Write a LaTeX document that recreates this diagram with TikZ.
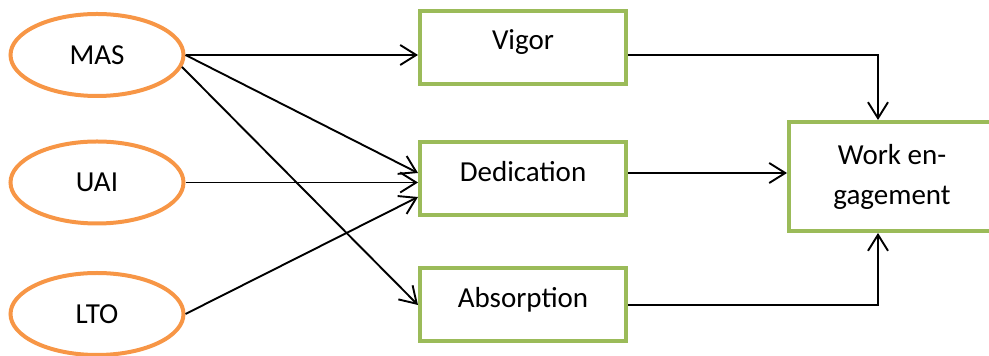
\documentclass[tikz,border=0pt]{standalone}
\usepackage{fontspec}
\setmainfont{Carlito}
\usetikzlibrary{arrows.meta, shapes.geometric}
\definecolor{dimorange}{HTML}{F79646}
\definecolor{dimgreen}{HTML}{9BBB59}

\begin{document}
\begin{tikzpicture}[x=0.5pt, y=-0.5pt,
    dim/.style={draw=dimorange, ellipse, line width=2pt, minimum width=86.5pt,
                minimum height=41pt, font=\fontsize{14.5}{20}\selectfont},
    facet/.style={draw=dimgreen, line width=2pt, minimum width=103pt,
                  minimum height=36.5pt, text height=10pt, text depth=7.5pt,
                  font=\fontsize{14.5}{20}\selectfont, align=center},
    arr/.style={-{Straight Barb[length=8pt, width=10pt]}, line width=0.95pt},
]
\useasboundingbox (0,0) rectangle (989,356);
\clip (0,0) rectangle (989,356);
% cultural dimensions
\node[dim] (MAS) at (97, 55) {MAS};
\node[dim] (UAI) at (97, 182.5) {UAI};
\node[dim] (LTO) at (97, 314) {LTO};
% engagement facets
\node[facet] (vigor) at (523, 47.5) {Vigor};
\node[facet] (dedication) at (523, 179) {Dedication};
\node[facet] (absorption) at (523, 305) {Absorption};
\node[facet, minimum height=54.5pt, text height=, text depth=] (work) at (892, 176.5) {Work en-\\gagement};
% paths
\draw[arr] (MAS.east) -- (MAS.east -| vigor.west);
\draw[arr] (MAS.east) -- ([yshift=3pt]dedication.west);
\draw[arr] (MAS.-8) -- (absorption.west);
\draw[arr] (UAI.east) -- (UAI.east -| dedication.west);
\draw[arr] (LTO.east) -- ([yshift=-9pt]dedication.west);
\draw[arr] (vigor.east |- MAS.east) -| ([xshift=-7pt]work.north);
\draw[arr] ([yshift=3pt]dedication.east) -- ([yshift=3pt]dedication.east -| work.west);
\draw[arr] (absorption.east) -| ([xshift=-7pt]work.south);
\end{tikzpicture}
\end{document}
